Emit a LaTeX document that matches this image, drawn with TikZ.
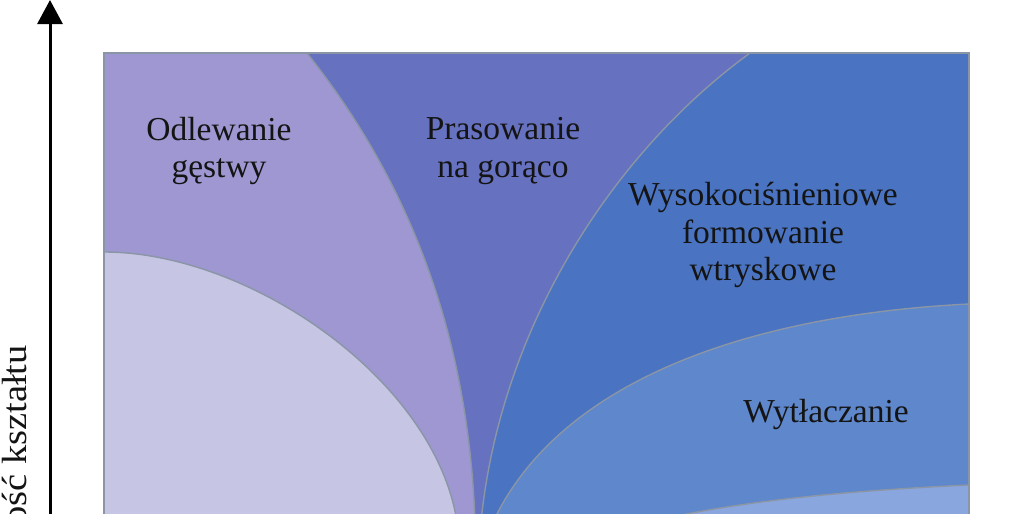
\documentclass[tikz,border=0pt]{standalone}
\usepackage{fontspec}
\usepackage{graphicx}
\setmainfont{Liberation Serif}
\usetikzlibrary{arrows.meta}
\definecolor{gestwa}{HTML}{C7C5E4}
\definecolor{odlew}{HTML}{9E97D1}
\definecolor{prasa}{HTML}{6671BF}
\definecolor{wtrysk}{HTML}{4A74C2}
\definecolor{wytlocz}{HTML}{5E87CC}
\definecolor{dolny}{HTML}{8AA6DE}
\definecolor{granica}{HTML}{8A95A5}
\tikzset{etykieta/.style={align=center, inner sep=0pt, text=black!92, font=\fontsize{33.5}{37.5}\selectfont}}

\begin{document}
\begin{tikzpicture}[x=1pt, y=-1pt]
			%%%%% START %%%%%
			
			\useasboundingbox (0, 0) rectangle (1023, 514);
			\clip (0, 0) rectangle (1023, 514);
			\fill[white] (0, 0) rectangle (1023, 514);
			
			\begin{scope}
			\clip (104, 53) rectangle (969, 540);
			\fill[wtrysk] (104, 53) rectangle (969, 540);
			
			\draw[fill=wytlocz, draw=granica, line width=1.4pt] (969, 304) .. controls (750, 315) and (560, 380) .. (493, 522) -- (493, 540) -- (969, 540) -- cycle;
			\draw[fill=dolny, draw=granica, line width=1.4pt] (969, 485) .. controls (860, 490) and (740, 500) .. (650, 522) -- (650, 540) -- (969, 540) -- cycle;
			
			\draw[fill=prasa, draw=granica, line width=1.4pt] (750, 53) .. controls (610, 155) and (500, 330) .. (481, 522) -- (481, 540) -- (104, 540) -- (104, 53) -- cycle;
			\draw[fill=odlew, draw=granica, line width=1.4pt] (307, 53) .. controls (400, 170) and (468, 320) .. (475, 522) -- (475, 540) -- (104, 540) -- (104, 53) -- cycle;
			\draw[fill=gestwa, draw=granica, line width=1.4pt] (104, 252) .. controls (250, 252) and (435, 380) .. (457, 522) -- (457, 540) -- (104, 540) -- cycle;
			\end{scope}
			
			\draw[draw=granica, line width=2.2pt] (104, 540) -- (104, 53) -- (969, 53) -- (969, 540);
			
			\coordinate (osDol) at (50, 540);
			\coordinate (osGora) at (50, 0);
			\draw[line width=3pt, -{Triangle[width=25pt, length=24pt]}] (osDol) -- (osGora);
			
			\node[etykieta] (odlewanie) at (219, 151) {Odlewanie\\gęstwy};
			\node[etykieta] (prasowanie) at (503, 151) {Prasowanie\\na gorąco};
			\node[etykieta] (wtryskowe) at (763, 235) {Wysokociśnieniowe\\formowanie\\wtryskowe};
			\node[etykieta] (wytlaczanie) at (826, 414) {Wytłaczanie};
			
			\node[rotate=90, anchor=base east, inner sep=0pt, text=black!92, font=\fontsize{35}{40}\selectfont] (ksztalt) at (26, 345) {\scalebox{1.1}[1]{Złożoność kształtu}};
			
			%%%%% END %%%%%
		\end{tikzpicture}
\end{document}
